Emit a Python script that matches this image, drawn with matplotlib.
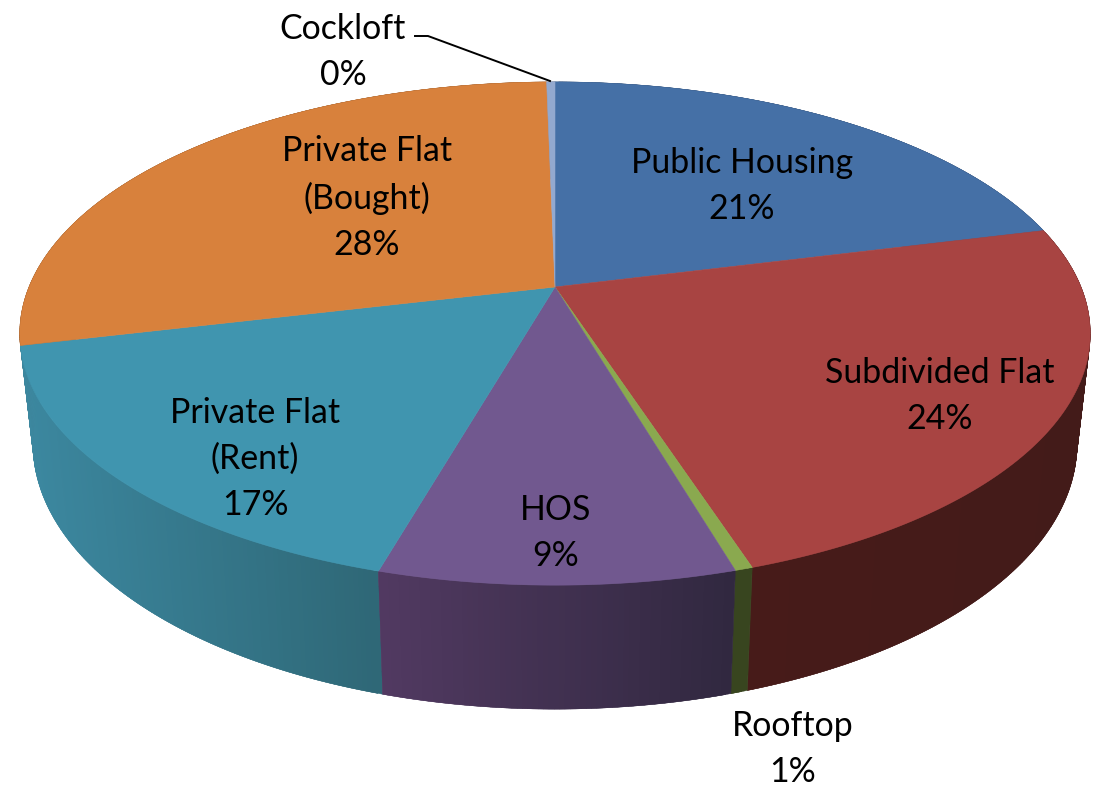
import matplotlib
matplotlib.use("Agg")
import matplotlib.pyplot as plt
import numpy as np
from matplotlib.colors import to_rgb
from matplotlib.patches import Polygon

categorias = ["Public Housing", "Subdivided Flat", "Rooftop", "HOS", "Private Flat\n(Rent)", "Private Flat\n(Bought)", "Cockloft"]
partes = [21.1, 23.9, 0.45, 9.0, 16.85, 28.4, 0.3]
etiquetas_pct = ["21%", "24%", "1%", "9%", "17%", "28%", "0%"]
colores_cara = ["#4570A6", "#A84442", "#8AA94F", "#71588F", "#4095AF", "#D8813C", "#93A9CF"]
colores_lado_izq = ["#2E4566", "#471B19", "#38451F", "#523A62", "#3C88A0", "#854F25", "#5A6880"]
colores_lado_der = ["#2E4566", "#431B19", "#38451F", "#312840", "#2F6877", "#854F25", "#5A6880"]
pos_etiquetas = [(742, 186), (940, 396), (793, 749), (556, 533), (255, 459), (367, 198), (343, 52)]

plt.rcParams["font.family"] = ["Lato", "DejaVu Sans"]

CX = 555
K = 0.185


def borde(theta, r, s, cy):
    # circulo en perspectiva, theta en sentido horario desde arriba
    x = np.sin(theta)
    y = np.cos(theta)
    w = 1 + K * y
    return CX + r * x / w, cy - s * y / w


def borde_sup(theta):
    return borde(theta, 526, 243, 287)


def borde_inf(theta):
    return borde(theta, 513, 256, 395)


fig = plt.figure(figsize=(11.05, 7.88), dpi=100)
ax = fig.add_axes([0, 0, 1, 1])
ax.set_xlim(0, 1105)
ax.set_ylim(788, 0)
ax.axis("off")

limites = np.cumsum([0] + partes) / sum(partes) * 2 * np.pi

# lados primero, ordenados de atras hacia delante
quads = []
for i in range(len(partes)):
    n = max(int((limites[i + 1] - limites[i]) * 120), 3)
    thetas = np.linspace(limites[i], limites[i + 1], n + 1)
    xs, ys = borde_sup(thetas)
    xi, yi = borde_inf(thetas)
    izq = np.array(to_rgb(colores_lado_izq[i]))
    der = np.array(to_rgb(colores_lado_der[i]))
    for j in range(n):
        t = (xs[j] - xs.min()) / (xs.max() - xs.min())
        color = izq + (der - izq) * t
        k = min(j + 2, n)
        quad = [(xs[j], ys[j]), (xs[k], ys[k]), (xi[k], yi[k]), (xi[j], yi[j])]
        quads.append((ys[j] + ys[k], quad, color))

for _, quad, color in sorted(quads, key=lambda q: q[0]):
    ax.add_patch(Polygon(quad, closed=True, facecolor=color, edgecolor=color, linewidth=0.3))

for i in range(len(partes)):
    thetas = np.linspace(limites[i], limites[i + 1], 200)
    xs, ys = borde_sup(thetas)
    puntos = [(CX, 287)] + list(zip(xs, ys))
    ax.add_patch(Polygon(puntos, closed=True, facecolor=colores_cara[i], edgecolor=colores_cara[i], linewidth=0.4))

for nombre, pct, (x, y) in zip(categorias, etiquetas_pct, pos_etiquetas):
    ax.text(x, y, f"{nombre}\n{pct}", ha="center", va="center", fontsize=24.4, color="black", linespacing=1.53)

ax.plot([415, 428, 550], [36, 36, 81], color="black", linewidth=1.4)

fig.savefig("out.png", dpi=100)
plt.close(fig)
